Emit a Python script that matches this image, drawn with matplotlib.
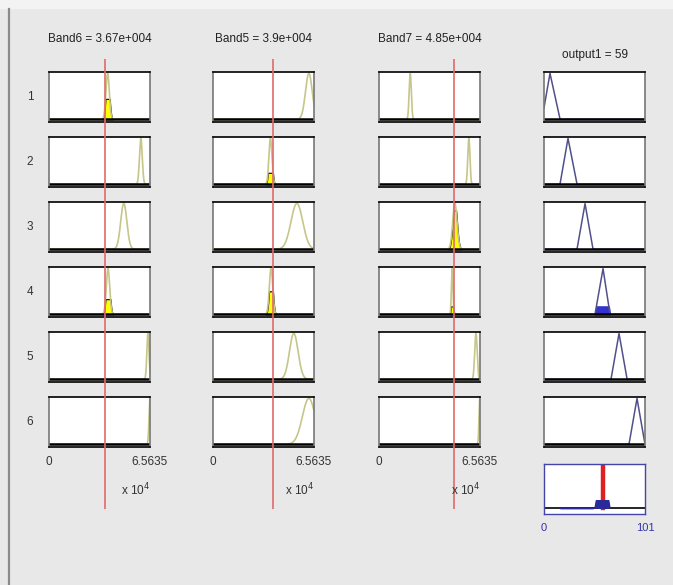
import numpy as np
import matplotlib
matplotlib.use("Agg")
from matplotlib import pyplot as plt

input_names = ["Band6", "Band5", "Band7"]
input_values = [36700, 39000, 48500]
input_titles = ["3.67e+004", "3.9e+004", "4.85e+004"]
input_range = (0, 65635)

# gaussian membership functions (center, sigma) per input, rules 1..6
band6_mu = [38100, 59700, 48600, 38340, 64300, 65600]
band6_sigma = [1100, 900, 2000, 1100, 700, 600]
band5_mu = [62300, 37335, 54500, 37705, 52500, 62300]
band5_sigma = [2200, 1000, 3800, 1100, 2800, 4200]
band7_mu = [20300, 58400, 49300, 47560, 63000, 65500]
band7_sigma = [700, 700, 1400, 500, 800, 500]

# output triangles (a, b, c), range 0..101
output_range = (0, 101)
output_mf = [(-2, 6, 16), (16, 24, 33), (33, 41, 49),
             (51, 59, 66), (67, 75, 83), (85, 93, 101)]
output_value = 59
rule_labels = ["1", "2", "3", "4", "5", "6"]

W, H = 673, 585
fig = plt.figure(figsize=(W / 100, H / 100), dpi=100, facecolor="#e8e8e8")
plt.rcParams["font.family"] = ["Liberation Sans", "DejaVu Sans"]


def px_axes(left, top, width, height, **kw):
    return fig.add_axes([left / W, 1 - (top + height) / H, width / W, height / H], **kw)


def gauss(x, mu, s):
    return np.exp(-((x - mu) ** 2) / (2 * s ** 2))


def tri(x, a, b, c):
    return np.clip(np.minimum((x - a) / (b - a), (c - x) / (c - b)), 0, 1)


def box_style(ax):
    ax.set_xticks([])
    ax.set_yticks([])
    for s in ax.spines.values():
        s.set_linewidth(1.2)
    ax.spines["left"].set_color("#777777")
    ax.spines["right"].set_color("#777777")


# panel decoration: light top strip and left border
fig.patches.append(plt.Rectangle((0, 1 - 8 / H), 1, 8 / H, transform=fig.transFigure,
                                 color="#f3f3f3", zorder=0))
fig.lines.append(plt.Line2D([8.5 / W, 8.5 / W], [0, 1 - 9 / H], transform=fig.transFigure,
                            color="#8a8a8a", lw=1.6))

col_lefts = [49, 213, 379, 544]
col_w, row_h = 101, 50
row_tops = [72 + 65 * i for i in range(6)]
mus = [band6_mu, band5_mu, band7_mu]
sigmas = [band6_sigma, band5_sigma, band7_sigma]

x_in = np.linspace(*input_range, 3000)
x_out = np.linspace(*output_range, 1000)
firing = []

for r in range(6):
    memb = []
    for c in range(3):
        ax = px_axes(col_lefts[c], row_tops[r], col_w, row_h)
        y = gauss(x_in, mus[c][r], sigmas[c][r])
        m = gauss(input_values[c], mus[c][r], sigmas[c][r])
        memb.append(m)
        ax.plot(x_in, y, color="#c6c68a", lw=1.2)
        if m > 0.02:
            yc = np.minimum(y, m)
            ax.fill_between(x_in, 0, yc, where=yc > 0.01, color="#ffff00",
                            edgecolor="black", lw=0.8)
        ax.axhline(0, color="black", lw=1.8)
        ax.set_xlim(*input_range)
        ax.set_ylim(-0.06, 1.03)
        box_style(ax)
    firing.append(min(memb))

    ax = px_axes(col_lefts[3], row_tops[r], col_w, row_h)
    y = tri(x_out, *output_mf[r])
    ax.plot(x_out, y, color="#50508a", lw=1.1)
    if firing[r] > 0.02:
        ax.fill_between(x_out, 0, np.minimum(y, firing[r]), where=y > 0, color="#3333cc")
    ax.axhline(0, color="black", lw=1.8)
    ax.set_xlim(*output_range)
    ax.set_ylim(-0.06, 1.03)
    box_style(ax)

    fig.text(30 / W, 1 - (row_tops[r] + row_h / 2) / H, rule_labels[r],
             ha="center", va="center", fontsize=8.5, color="#333333")

# aggregated output
ax = px_axes(col_lefts[3], 464, col_w, row_h)
agg = np.max([np.minimum(tri(x_out, *output_mf[r]), firing[r]) for r in range(6)], axis=0)
ax.fill_between(x_out, 0, agg, where=agg > 0, color="#2a2a99", zorder=3)
ax.axhline(0, color="black", lw=1.2)
ax.axvline(output_value, ymin=0.115, ymax=1, color="#e02020", lw=3.2, zorder=2)
ax.set_xlim(*output_range)
ax.set_ylim(-0.13, 1.0)
ax.set_xticks([])
ax.set_yticks([])
for s in ax.spines.values():
    s.set_color("#4444aa")
    s.set_linewidth(1.0)

# red input lines across each column
for c in range(3):
    ov = px_axes(col_lefts[c], 59, col_w, 450)
    ov.set_xlim(*input_range)
    ov.set_ylim(0, 1)
    ov.axvline(input_values[c], color="#e06a6a", lw=1.2)
    ov.patch.set_visible(False)
    ov.axis("off")

# titles
for c in range(3):
    fig.text((col_lefts[c] + col_w / 2) / W, 1 - 39 / H,
             f"{input_names[c]} = {input_titles[c]}",
             ha="center", va="center", fontsize=8.5, color="#222222")
fig.text((col_lefts[3] + col_w / 2) / W, 1 - 55 / H, f"output1 = {output_value}",
         ha="center", va="center", fontsize=8.5, color="#222222")

# axis labels
for c in range(3):
    fig.text(col_lefts[c] / W, 1 - 462 / H, "0", ha="center", va="center",
             fontsize=8.5, color="#333333")
    fig.text((col_lefts[c] + col_w) / W, 1 - 462 / H, f"{input_range[1] / 1e4:g}",
             ha="center", va="center", fontsize=8.5, color="#333333")
    fig.text((col_lefts[c] + col_w) / W, 1 - 490 / H, r"x 10$^4$",
             ha="right", va="center", fontsize=8.5, color="#333333")
fig.text(col_lefts[3] / W, 1 - 528 / H, "0", ha="center", va="center",
         fontsize=8, color="#3333aa")
fig.text((col_lefts[3] + col_w) / W, 1 - 528 / H, str(output_range[1]),
         ha="center", va="center", fontsize=8, color="#3333aa")

fig.savefig("out.png", dpi=100, facecolor=fig.get_facecolor())
